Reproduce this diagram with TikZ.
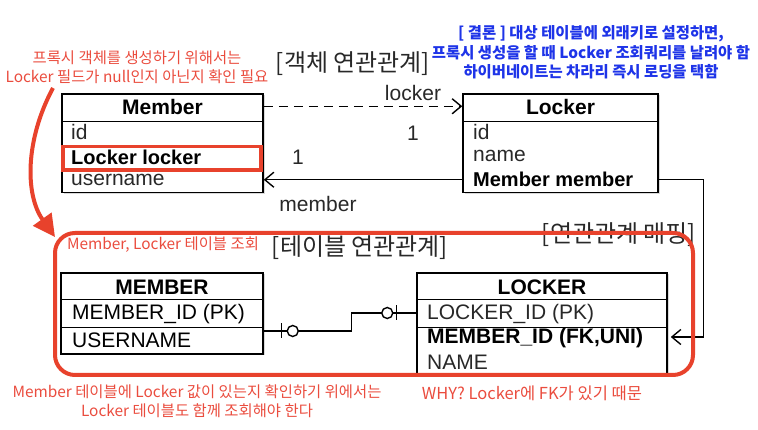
\documentclass[tikz,border=0pt]{standalone}
\usepackage{fontspec}
\setmainfont{Liberation Sans}
\newfontfamily\kr{Noto Sans CJK KR}
\usetikzlibrary{arrows.meta,shadows}
\definecolor{hred}{RGB}{232,66,44}
\definecolor{tred}{RGB}{234,76,62}
\definecolor{tblue}{RGB}{30,52,232}
\definecolor{dgray}{RGB}{40,40,40}
\begin{document}
\begin{tikzpicture}[x=1pt,y=-1pt,
  box/.style={draw=black, line width=1.5pt, fill=white, inner sep=0pt,
    drop shadow={shadow xshift=1.5pt,shadow yshift=-1.5pt,opacity=0.3}},
  sep/.style={line width=1.4pt},
  ttl/.style={font=\fontsize{21}{24}\selectfont\bfseries, inner sep=0pt},
  fld/.style={font=\fontsize{21}{24}\selectfont, text=dgray, anchor=west, inner sep=0pt},
  bfld/.style={font=\fontsize{20}{24}\selectfont\bfseries, text=black, anchor=west, inner sep=0pt},
  lbl/.style={font=\fontsize{21}{24}\selectfont, text=dgray, inner sep=0pt},
  sect/.style={font=\kr\fontsize{24}{28}\selectfont, text=dgray, inner sep=0pt},
  note/.style={font=\kr\fontsize{15.4}{19}\selectfont, text=tred, align=center, inner sep=0pt},
  bnote/.style={font=\kr\bfseries\fontsize{15.4}{19.5}\selectfont, text=tblue, align=center, inner sep=0pt},
  conn/.style={line width=1.4pt},
  barb/.style={conn, -{Straight Barb[length=9pt,width=15pt,line width=1.4pt]}},
  hl/.style={draw=hred, line width=3.5pt},
]
\useasboundingbox (0,0) rectangle (758,430);

% ---------- object model ----------
\node[box, minimum width=201pt, minimum height=98.5pt] (member) at (162.5,143.25) {};
\draw[sep] ([yshift=-28pt]member.north west) -- ([yshift=-28pt]member.north east);
\node[ttl] (memberT) at (162.5,107) {Member};
\node[fld] (mid) at (71,132) {id};
\draw[hl] (63,146.5) rectangle (261,170);
\node[bfld] (mlocker) at (71,157) {Locker locker};
\node[fld] (muser) at (71,180) {username};

\node[box, minimum width=195pt, minimum height=98.5pt] (locker) at (560.5,143.25) {};
\draw[sep] ([yshift=-28pt]locker.north west) -- ([yshift=-28pt]locker.north east);
\node[ttl] (lockerT) at (560.5,107) {Locker};
\node[fld] (lid) at (473,132) {id};
\node[fld] (lname) at (473,156) {name};
\node[bfld] (lmember) at (473,179.5) {Member member};

\draw[barb, dash pattern=on 9pt off 6pt] ([yshift=-13pt]member.north east) -- ([yshift=-13pt]locker.north west);
\node[lbl] (lblLocker) at (413,93) {locker};
\node[lbl] (lblOne1) at (413,133) {1};
\draw[barb] ([yshift=13.5pt]locker.south west) -- ([yshift=13.5pt]member.south east);
\node[lbl] (lblOne2) at (298,157) {1};
\node[lbl] (lblMember) at (318,204) {member};

\node[sect] (objT) at (353,64) {[객체 연관관계]};
\node[note] (note1) at (137,67.5) {프록시 객체를 생성하기 위해서는\\Locker 필드가 null인지 아닌지 확인 필요};
\node[bnote] (note2) at (591,52.5) {[ 결론 ] 대상 테이블에 외래키로 설정하면,\\프록시 생성을 할 때 Locker 조회쿼리를 날려야 함\\하이버네이트는 차라리 즉시 로딩을 택함};

% ---------- table model ----------
\node[sect] (mapT) at (619,235) {[연관관계 매핑]};

\node[box, minimum width=202pt, minimum height=81pt] (MEM) at (162,313.5) {};
\draw[sep] ([yshift=-27pt]MEM.north west) -- ([yshift=-27pt]MEM.north east);
\draw[sep] ([yshift=-55pt]MEM.north west) -- ([yshift=-55pt]MEM.north east);
\node[ttl] (MEMT) at (162,287) {MEMBER};
\node[fld, text=black] (MEMid) at (72,314) {MEMBER\_ID (PK)};
\node[fld, text=black] (MEMuser) at (72,340) {USERNAME};

\node[box, minimum width=250pt, minimum height=101pt] (LOC) at (542,323.5) {};
\draw[sep] ([yshift=-27pt]LOC.north west) -- ([yshift=-27pt]LOC.north east);
\draw[sep] ([yshift=-55pt]LOC.north west) -- ([yshift=-55pt]LOC.north east);
\node[ttl] (LOCT) at (542,287) {LOCKER};
\node[fld] (LOCid) at (427,314) {LOCKER\_ID (PK)};
\node[bfld, font=\fontsize{21}{24}\selectfont\bfseries] (LOCmem) at (427,338) {MEMBER\_ID (FK,UNI)};
\node[fld] (LOCname) at (427,362) {NAME};

% ER connector (one-to-one, zero or one)
\draw[conn] ([yshift=-17.5pt]MEM.east) -- ++(88,0) |- ([yshift=10.5pt]LOC.west);
\draw[conn] ([xshift=18pt,yshift=-17.5pt]MEM.east) ++(0,-7.5) -- ++(0,15);
\draw[conn, fill=white] ([xshift=29pt,yshift=-17.5pt]MEM.east) circle[radius=5.5pt];
\draw[conn] ([xshift=-20pt,yshift=10.5pt]LOC.west) ++(0,-7.5) -- ++(0,15);
\draw[conn, fill=white] ([xshift=-29pt,yshift=10.5pt]LOC.west) circle[radius=5.5pt];

% mapping connector
\draw[barb] ([yshift=13.5pt]locker.south east) -- ++(45,0) |- ([xshift=3pt,yshift=-13.5pt]LOC.east);

\node[sect] (tblT) at (360,248) {[테이블 연관관계]};
\node[note] (note3) at (163,245) {Member, Locker 테이블 조회};

% red group frame
\node[draw=hred, line width=4pt, rounded corners=20pt, minimum width=638pt, minimum height=142pt, inner sep=0pt] (grp) at (374,304) {};

\node[note] (note4) at (197,401.5) {Member 테이블에 Locker 값이 있는지 확인하기 위에서는\\Locker 테이블도 함께 조회해야 한다};
\node[note, font=\kr\fontsize{16.5}{19}\selectfont] (note5) at (532,393) {WHY? Locker에 FK가 있기 때문};

% red curved arrow
\coordinate (cstart) at (53,88);
\coordinate (ctip) at ([xshift=2pt,yshift=-6pt]grp.north west);
\draw[hred, line width=4pt, -{Triangle[length=22pt,width=22pt]}] (cstart) .. controls (25,140) and (25,195) .. (ctip);
\end{tikzpicture}
\end{document}
